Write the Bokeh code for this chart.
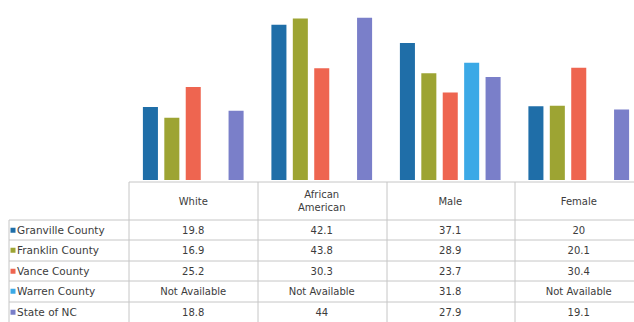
from bokeh.plotting import figure
from bokeh.models import Range1d, ColumnDataSource
from bokeh.embed import file_html
from bokeh.resources import INLINE
from bokeh.core.properties import value

# ---- data ----
categories = ["White", "African American", "Male", "Female"]
header_labels = ["White", "African\nAmerican", "Male", "Female"]
series_names = ["Granville County", "Franklin County", "Vance County", "Warren County", "State of NC"]
granville = [19.8, 42.1, 37.1, 20]
franklin = [16.9, 43.8, 28.9, 20.1]
vance = [25.2, 30.3, 23.7, 30.4]
warren = [None, None, 31.8, None]
state_nc = [18.8, 44, 27.9, 19.1]
series_values = [granville, franklin, vance, warren, state_nc]
colors = ["#1f6ea8", "#9da433", "#ee6550", "#3ba9e6", "#7a7fc9"]

# ---- layout constants ----
W, H = 634, 322
PX_PER_CAT = 128.5
X0 = 128.5          # pixel where first category column starts
BASE = 179.5        # pixel (from top) of the bar baseline
PX_PER_UNIT = 3.69
HEADER_TOP = 181.5
ROW_LINES = [219.5, 239.5, 260.5, 280.5, 301.5]
ROW_H = 20.5
TABLE_LEFT = 8.5
FONT = value("DejaVu Sans")
TXT = "#3c3c3c"
GRID = "#c6c6c6"

p = figure(width=W, height=H, output_backend="svg", toolbar_location=None,
           x_range=Range1d(-X0 / PX_PER_CAT, (W - X0) / PX_PER_CAT),
           y_range=Range1d(-(H - BASE) / PX_PER_UNIT, BASE / PX_PER_UNIT),
           min_border=0, outline_line_color=None)
p.axis.visible = False
p.grid.visible = False
p.background_fill_color = "white"
p.border_fill_color = "white"
p.extra_y_ranges = {"tbl": Range1d(H, 0)}
p.extra_x_ranges = {"px": Range1d(0, W)}

# ---- bars ----
n = len(series_names)
step = 1.0 / 6.0
for j, (name, vals, c) in enumerate(zip(series_names, series_values, colors)):
    xs = [i + 0.5 + (j - (n - 1) / 2) * step for i in range(len(categories))]
    tops = [float("nan") if v is None else v for v in vals]
    src = ColumnDataSource(dict(x=xs, top=tops))
    p.vbar(x="x", top="top", bottom=0, width=0.117, source=src,
           fill_color=c, line_color=None)

# ---- table grid ----
col_edges = [X0 + i * PX_PER_CAT for i in range(len(categories) + 1)]
hx0 = [X0] + [TABLE_LEFT] * len(ROW_LINES)
hy = [HEADER_TOP] + ROW_LINES
p.segment(x0=hx0, y0=hy, x1=[W] * len(hy), y1=hy,
          x_range_name="px", y_range_name="tbl", line_color=GRID, line_width=1)
vx = [TABLE_LEFT] + [round(e) + 0.5 for e in col_edges]
vy0 = [ROW_LINES[0]] + [HEADER_TOP] * len(col_edges)
p.segment(x0=vx, y0=vy0, x1=vx, y1=[H] * len(vx),
          x_range_name="px", y_range_name="tbl", line_color=GRID, line_width=1)

# ---- header labels ----
hdr_y = (HEADER_TOP + ROW_LINES[0]) / 2
p.text(x=[i + 0.5 for i in range(len(categories))], y=[hdr_y] * len(categories),
       text=header_labels, y_range_name="tbl",
       text_align="center", text_baseline="middle", text_font=FONT,
       text_font_size="10px", text_color=TXT, text_line_height=1.2)

# ---- rows ----
for j, (name, vals, c) in enumerate(zip(series_names, series_values, colors)):
    yc = ROW_LINES[j] + ROW_H / 2
    p.scatter(x=[12.5], y=[yc], marker="square", size=5, fill_color=c, line_color=None,
              x_range_name="px", y_range_name="tbl")
    p.text(x=[16.5], y=[yc], text=[name], x_range_name="px", y_range_name="tbl",
           text_align="left", text_baseline="middle", text_font=FONT,
           text_font_size="10.5px", text_color=TXT)
    cells = ["Not Available" if v is None else f"{v:g}" for v in vals]
    p.text(x=[i + 0.5 for i in range(len(categories))], y=[yc] * len(categories),
           text=cells, y_range_name="tbl",
           text_align="center", text_baseline="middle", text_font=FONT,
           text_font_size="10px", text_color=TXT)

open("out.html", "w").write(file_html(p, INLINE))
